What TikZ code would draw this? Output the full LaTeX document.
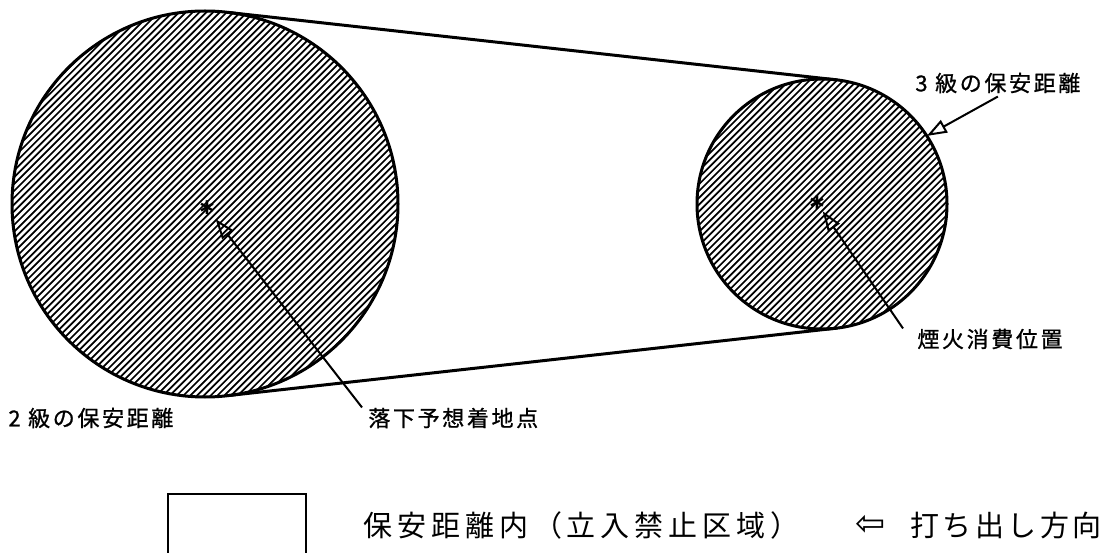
\documentclass[tikz,border=0pt]{standalone}
\usepackage{fontspec}
\newfontfamily\jpfont[LetterSpace=12,FakeBold=1]{Noto Sans CJK JP}
\newfontfamily\jpwide[LetterSpace=17]{Noto Sans CJK JP}
\newfontfamily\jplegend[LetterSpace=12]{Noto Sans CJK JP}
\newfontfamily\arrowfont{DejaVu Sans}
\usetikzlibrary{arrows.meta}

\begin{document}
\begin{tikzpicture}[x=0.5pt,y=0.5pt,
  zone/.style={draw, circle, line width=1.5pt, inner sep=0pt, outer sep=0pt},
  hatch/.style={line width=0.85pt},
  tag/.style={font=\jpfont\fontsize{11}{12}\selectfont, inner sep=0pt},
  legend/.style={font=\jpwide\fontsize{14.5}{17}\selectfont, inner sep=0pt},
  spot/.style={font=\arrowfont\bfseries\fontsize{11}{12}\selectfont, inner sep=0pt},
  pointer/.style={-{Triangle[open,length=10pt,width=7pt]}, line width=1pt},
  band/.style={line width=1.5pt}
]
\useasboundingbox (0,0) rectangle (1119,552);

% hatching of the two zones
\begin{scope}
  \clip (205,348) circle[radius=96.5pt];
  \foreach \k in {-42,...,42}
    \draw[hatch] ({5+\k*6.8},148) -- ++(400,400);
\end{scope}
\begin{scope}
  \clip (822,348) circle[radius=62.5pt];
  \foreach \k in {-28,...,28}
    \draw[hatch] ({692+\k*6.8},218) -- ++(260,260);
\end{scope}

% safety zones
\node[zone, minimum size=193pt] (cL) at (205,348) {};
\node[zone, minimum size=125pt] (cR) at (822,348) {};
\draw[band] (cL.83.67) -- (cR.83.67);
\draw[band] (cL.-83.67) -- (cR.-83.67);

\node[spot] (starL) at (207,344) {∗};
\node[spot] (starR) at (817,349) {∗};

% labels
\node[tag, anchor=west] (lab3) at (915,469) {3 級の保安距離};
\node[tag, anchor=west] (labfire) at (917,213) {煙火消費位置};
\node[tag, anchor=west] (lab2) at (8,134) {2 級の保安距離};
\node[tag, anchor=west] (labfall) at (368,134) {落下予想着地点};

\draw[pointer] ([yshift=-1.5pt]lab3.south) -- (cR.33);
\draw[pointer, shorten >=5pt] ([xshift=-7pt]labfire.north west) -- (starR.center);
\draw[pointer, shorten >=7pt] ([xshift=-3pt]labfall.north west) -- (starL.center);

% legend
\node[draw, line width=1.2pt, minimum width=69pt, minimum height=40pt,
  anchor=north west] (legbox) at (167,59) {};
\node[legend, anchor=west] (legtext) at (363,27) {保安距離内（立入禁止区域）};
\node[font=\arrowfont\fontsize{18}{20}\selectfont, inner sep=0pt] (dirarrow) at (871,27) {⇦};
\node[legend, font=\jplegend\fontsize{14.5}{17}\selectfont, anchor=west] (dirtext) at (910,27) {打ち出し方向};
\end{tikzpicture}
\end{document}
